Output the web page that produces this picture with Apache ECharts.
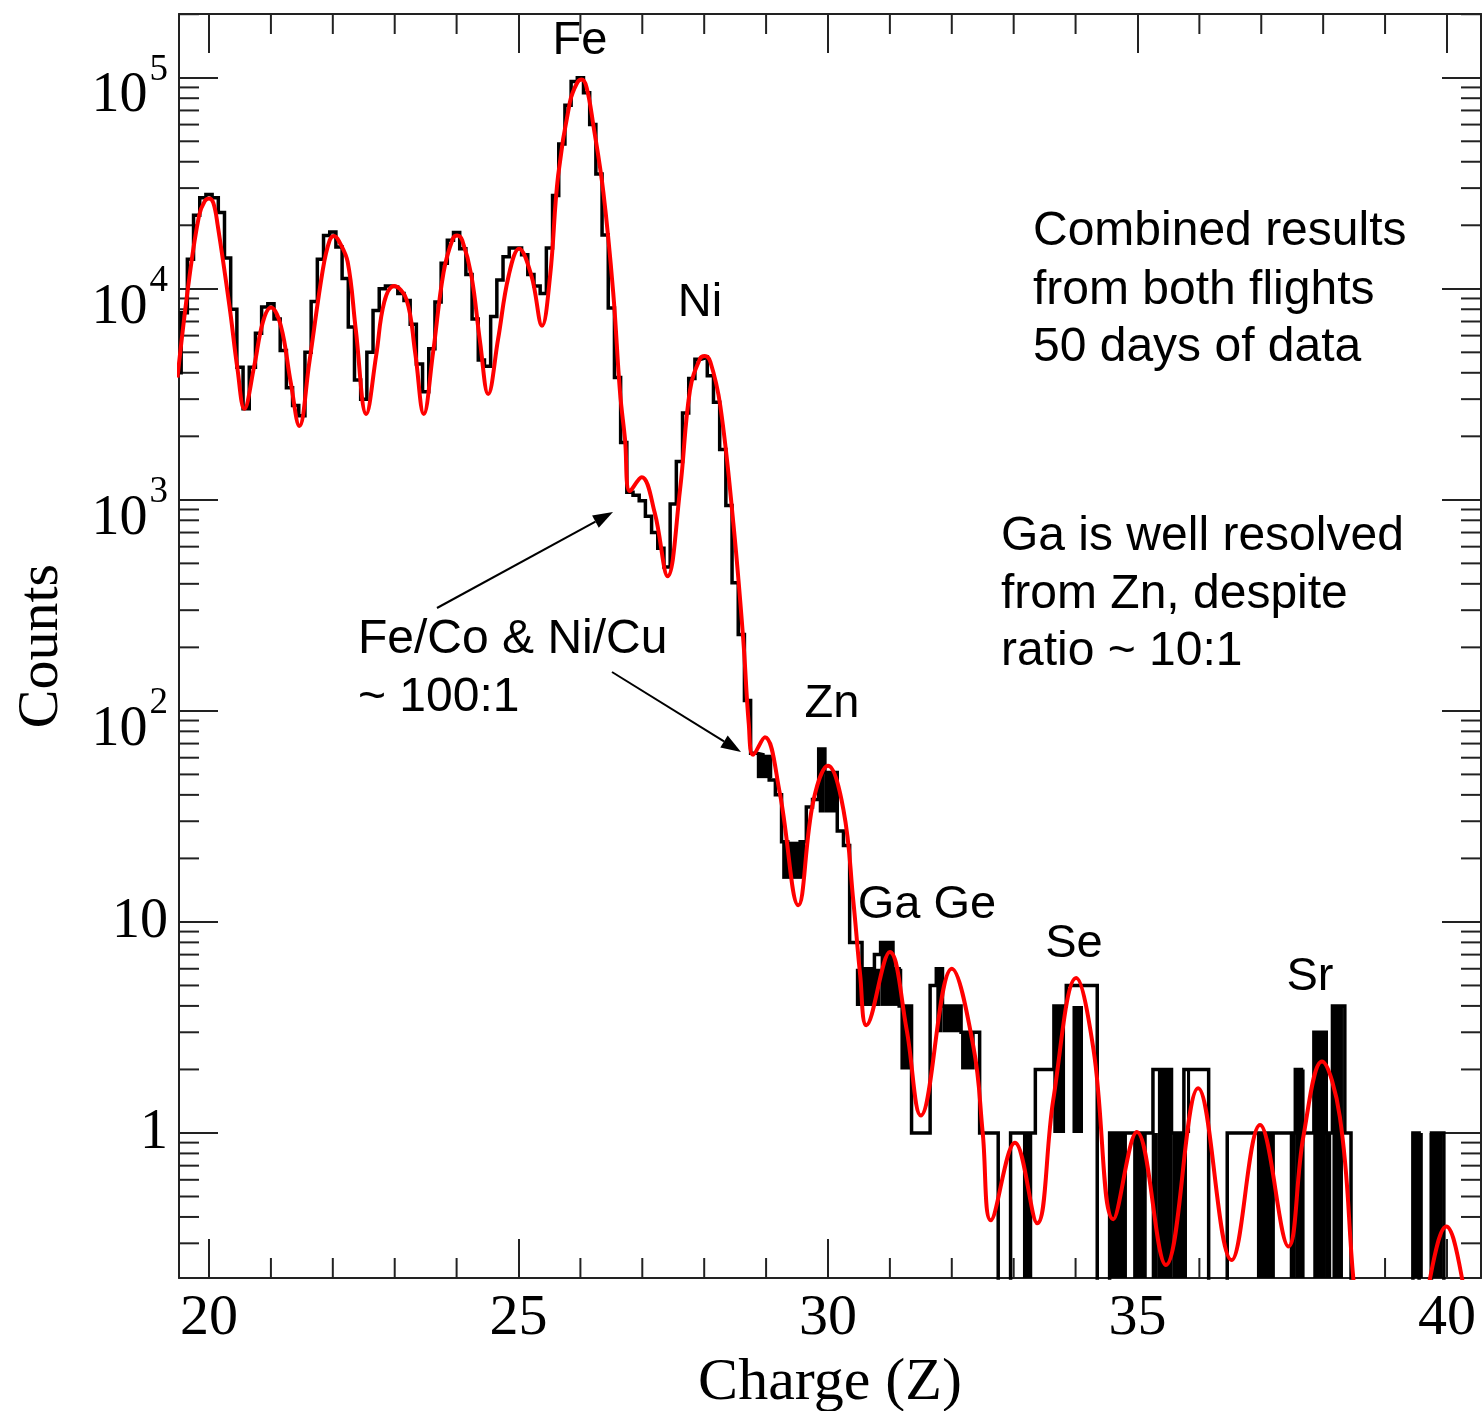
<!DOCTYPE html>
<html><head><meta charset="utf-8">
<script src="https://cdn.jsdelivr.net/npm/echarts@6/dist/echarts.min.js"></script>
<style>html,body{margin:0;padding:0;background:#fff;}#c{width:1483px;height:1411px;}</style>
</head><body><div id="c"></div>
<script>
// ---------- data ----------
const binStart = 19.45;          // left edge of first histogram bin (Z)
const binWidth = 0.1;            // bin width (Z)
// counts per bin, bin centres 19.5, 19.6, ... 40.5
const counts = [
  4000, 7700, 13800, 22300, 27000, 28000, 27000, 23000, 14000, 8000,
  4250, 2700, 4250, 6150, 8200, 8500, 7200, 5100, 3400, 2800,
  2500, 5000, 8700, 13800, 17900, 18600, 15800, 11200, 6600, 3700,
  3000, 5000, 7900, 10000, 10300, 10200, 9500, 8800, 6800, 4400,
  3250, 5200, 8650, 13200, 17000, 18500, 15500, 11700, 7200, 4600,
  4300, 7400, 11000, 14200, 15600, 15600, 14500, 11700, 10300, 9500,
  15600, 27700, 48500, 74000, 96000, 100000, 85000, 60000, 35000, 18000,
  8100, 3800, 1870, 1085, 1050, 990, 835, 700, 590, 480,
  955, 1520, 2580, 3760, 4640, 4730, 3870, 2900, 1730, 940,
  405, 230, 112, 63, 62, 60, 47, 40, 24, 23,
  22, 24, 35, 38, 66, 51, 51, 27, 23, 8,
  8, 6, 6, 7, 8, 8, 6, 4, 4, 1,
  1, 1, 5, 6, 4, 4, 4, 3, 3, 3,
  1, 1, 1, 0, 0, 1, 1, 1, 1, 2,
  2, 2, 4, 4, 5, 5, 5, 5, 5, 0,
  0, 1, 1, 1, 1, 1, 1, 1, 2, 2,
  2, 1, 1, 2, 2, 2, 2, 0, 0, 0,
  1, 1, 1, 1, 1, 1, 1, 1, 1, 1,
  1, 2, 1, 1, 3, 3, 1, 4, 4, 1,
  0, 0, 0, 0, 0, 0, 0, 0, 0, 0,
  1, 0, 0, 1, 1, 0, 0, 0, 0, 0,
  0
];
// densely fluctuating stretches that print as solid black: [Zfrom, Zto, low, high]
const blocks = [
  [28.85, 29.10, 48, 62], [29.26, 29.63, 16, 24], [29.85, 29.95, 33, 66], [29.95, 30.13, 33, 51],
  [30.45, 30.85, 4, 6], [30.85, 31.05, 4, 8], [31.05, 31.20, 4, 6], [31.17, 31.37, 2, 4],
  [31.75, 31.85, 3, 6], [31.85, 32.15, 3, 4], [32.15, 32.37, 2, 3],
  [33.15, 33.30, 0, 1], [33.64, 33.83, 1, 4], [33.95, 34.12, 1, 4],
  [34.56, 34.83, 0, 1], [34.93, 35.15, 0, 1], [35.23, 35.33, 0, 1], [35.33, 35.56, 0, 2],
  [35.56, 35.80, 0, 1], [35.80, 35.85, 1, 2], [36.93, 37.22, 0, 1], [37.46, 37.56, 0, 1],
  [37.56, 37.70, 0, 2], [37.84, 38.03, 0, 3], [38.03, 38.13, 0, 1], [38.15, 38.32, 0, 4],
  [39.43, 39.61, 0, 1], [39.72, 39.93, 0, 1]
];
// red fitted curve
const fitZ = [19.49, 19.68, 19.84, 19.93, 20.0, 20.07, 20.14, 20.33, 20.46, 20.57, 20.73, 20.87, 21.0, 21.16, 21.32, 21.46, 21.62, 21.84,
  21.95, 22.02, 22.1, 22.24, 22.37, 22.54, 22.70, 22.83, 22.99, 23.19, 23.33, 23.47, 23.62, 23.79, 23.94, 24.01, 24.09, 24.24, 24.38, 24.51,
  24.67, 24.84, 25.01, 25.21, 25.38, 25.51, 25.64, 25.83, 25.95, 26.02, 26.1, 26.21, 26.37, 26.53, 26.64, 26.72, 26.80, 26.99,
  27.2, 27.41, 27.61, 27.77, 27.93, 28.01, 28.1, 28.26, 28.47, 28.63, 28.72, 28.79, 28.98, 29.22, 29.52, 29.76, 30.0, 30.25,
  30.41, 30.52, 30.62, 31.0, 31.27, 31.5, 32.0, 32.35, 32.5, 32.63, 33.02, 33.38, 33.64, 34.01, 34.29, 34.61,
  34.99, 35.46, 35.98, 36.52, 36.98, 37.44, 37.68, 37.98, 38.27, 38.49, 38.6, 39.0, 39.62, 39.72, 39.99, 40.25, 40.35];
const fitCounts = [3800, 11200, 22300, 26000, 26800, 25500, 20000, 8300, 4170, 2700, 4300, 6950, 8150, 6680, 3600, 2240, 4470, 12400,
  17000, 17800, 16800, 13400, 6450, 2550, 4820, 8630, 10300, 8900, 5000, 2550, 5000, 12000, 17300, 17900, 17000, 11500, 5570, 3170,
  5770, 11500, 15500, 11500, 6680, 11500, 34400, 76700, 95000, 98000, 90000, 59400, 28800, 9600, 3240, 1950, 1100, 1280,
  870, 435, 1120, 3300, 4650, 4800, 4500, 2790, 780, 220, 87, 62, 75, 41, 12, 37, 55, 34,
  12.5, 5.6, 3.24, 7.2, 3.1, 1.21, 6.0, 2.56, 1.0, 0.386, 0.9, 0.373, 1.44, 5.42, 2.48, 0.39,
  1.01, 0.237, 1.63, 0.25, 1.09, 0.29, 0.96, 2.18, 1.19, 0.2, 0.1, null, 0.1, 0.2, 0.36, 0.2, 0.1];
// axis ticks
const xMinorTicks = [21, 22, 23, 24, 26, 27, 28, 29, 31, 32, 33, 34, 36, 37, 38, 39];
const yMinorTicks = [0.3, 0.4, 0.5, 0.6, 0.7, 0.8, 0.9, 2, 3, 4, 5, 6, 7, 8, 9, 20, 30, 40, 50, 60, 70, 80, 90,
  200, 300, 400, 500, 600, 700, 800, 900, 2000, 3000, 4000, 5000, 6000, 7000, 8000, 9000,
  20000, 30000, 40000, 50000, 60000, 70000, 80000, 90000, 200000];
// element labels and notes
const elementLabels = [['Fe', 580, 41], ['Ni', 700, 303], ['Zn', 832, 704], ['Ga Ge', 927, 905], ['Se', 1074, 944], ['Sr', 1310, 977]];
const noteLines = [
  ['Combined results', 1033, 232], ['from both flights', 1033, 291], ['50 days of data', 1033, 348],
  ['Ga is well resolved', 1001, 537], ['from Zn, despite', 1001, 595], ['ratio ~ 10:1', 1001, 652],
  ['Fe/Co & Ni/Cu', 358, 640], ['~ 100:1', 358, 698]
];
const arrows = [[437, 608, 613, 512], [612, 672, 741, 752]];

// ---------- build ----------
const X_MIN = 19.515, X_MAX = 40.55, Y_MIN = 0.2055, Y_MAX = 200500, FLOOR = 0.01;
const histData = counts.map((c, i) => [+(binStart + i * binWidth).toFixed(2), c > 0 ? c : FLOOR]);
histData.push([+(binStart + counts.length * binWidth).toFixed(2), counts[counts.length - 1] > 0 ? counts[counts.length - 1] : FLOOR]);
const fitData = fitZ.map((z, i) => [z, fitCounts[i]]);

const serif = 'Liberation Serif';
const axisLineStyle = { color: '#222', width: 2 };
const tickStyle = { color: '#222', width: 2 };

function isPow10(v) { const l = Math.log10(v); return Math.abs(l - Math.round(l)) < 1e-6; }

const chart = echarts.init(document.getElementById('c'), null, { renderer: 'canvas' });

const graphics = [];
elementLabels.forEach(([t, x, y]) => graphics.push({ type: 'text', z: 100, style: { text: t, x, y, align: 'center', verticalAlign: 'middle', font: '47px "Liberation Sans"', fill: '#000' } }));
noteLines.forEach(([t, x, y]) => graphics.push({ type: 'text', z: 100, style: { text: t, x, y, align: 'left', verticalAlign: 'middle', font: '48px "Liberation Sans"', fill: '#000' } }));
arrows.forEach(([x1, y1, x2, y2]) => {
  const dx = x2 - x1, dy = y2 - y1, L = Math.hypot(dx, dy), ux = dx / L, uy = dy / L, nx = -uy, ny = ux;
  const hl = 20, hw = 7, bx = x2 - hl * ux, by = y2 - hl * uy;
  graphics.push({ type: 'line', z: 100, shape: { x1, y1, x2: bx, y2: by }, style: { stroke: '#000', lineWidth: 2 } });
  graphics.push({ type: 'polygon', z: 100, shape: { points: [[x2, y2], [bx + hw * nx, by + hw * ny], [bx - hw * nx, by - hw * ny]] }, style: { fill: '#000' } });
});

const option = {
  animation: false,
  backgroundColor: '#fff',
  grid: { left: 179, top: 14, width: 1302, height: 1264, containLabel: false, outerBoundsMode: 'none' },
  xAxis: [
    { type: 'value', min: X_MIN, max: X_MAX, splitNumber: 4, position: 'bottom',
      axisLine: { show: true, onZero: false, lineStyle: axisLineStyle },
      axisTick: { show: true, inside: true, length: 39, lineStyle: tickStyle },
      splitLine: { show: false },
      axisLabel: { show: true, margin: 12, fontFamily: serif, fontSize: 58, color: '#000',
        formatter: v => (Math.abs(v % 5) < 1e-9 ? String(v) : '') },
      name: 'Charge (Z)', nameLocation: 'middle', nameGap: 72,
      nameTextStyle: { fontFamily: serif, fontSize: 60, color: '#000' } },
    { type: 'value', min: X_MIN, max: X_MAX, splitNumber: 4, position: 'top',
      axisLine: { show: true, onZero: false, lineStyle: axisLineStyle },
      axisTick: { show: true, inside: true, length: 39, lineStyle: tickStyle },
      splitLine: { show: false }, axisLabel: { show: false } }
  ],
  yAxis: [
    { type: 'log', logBase: 10, min: Y_MIN, max: Y_MAX, position: 'left',
      axisLine: { show: true, onZero: false, lineStyle: axisLineStyle },
      axisTick: { show: true, inside: true, length: 39, lineStyle: tickStyle },
      splitLine: { show: false },
      axisLabel: { show: true, margin: 11, fontFamily: serif, fontSize: 56, color: '#000',
        formatter: v => {
          if (!isPow10(v)) return '';
          const e = Math.round(Math.log10(v));
          if (e === 0) return '1';
          if (e === 1) return '10';
          return '{b|10}{sup|' + e + '}';
        },
        rich: {
          b: { fontFamily: serif, fontSize: 56, color: '#000', lineHeight: 56, padding: [38, 0, 0, 0] },
          sup: { fontFamily: serif, fontSize: 37, color: '#000', verticalAlign: 'top', lineHeight: 40, padding: [2, 0, 0, 2] }
        } },
      name: 'Counts', nameLocation: 'middle', nameGap: 108, nameRotate: 90,
      nameTextStyle: { fontFamily: serif, fontSize: 58, color: '#000' } },
    { type: 'log', logBase: 10, min: Y_MIN, max: Y_MAX, position: 'right',
      axisLine: { show: true, onZero: false, lineStyle: axisLineStyle },
      axisTick: { show: true, inside: true, length: 39, lineStyle: tickStyle },
      splitLine: { show: false }, axisLabel: { show: false } }
  ],
  series: [
    { type: 'custom', name: 'minorY', xAxisIndex: 0, yAxisIndex: 0, silent: true, z: 1,
      data: yMinorTicks.map(v => [X_MIN, v]),
      encode: { x: 0, y: 1 },
      renderItem: (params, api) => {
        const cs = params.coordSys; const y = api.coord([X_MIN, api.value(1)])[1];
        if (y < cs.y - 1 || y > cs.y + cs.height + 1) return null;
        return { type: 'group', children: [
          { type: 'line', shape: { x1: cs.x, y1: y, x2: cs.x + 20, y2: y }, style: { stroke: '#222', lineWidth: 2 } },
          { type: 'line', shape: { x1: cs.x + cs.width - 20, y1: y, x2: cs.x + cs.width, y2: y }, style: { stroke: '#222', lineWidth: 2 } }
        ] };
      } },
    { type: 'custom', name: 'minorX', xAxisIndex: 0, yAxisIndex: 0, silent: true, z: 1,
      data: xMinorTicks.map(v => [v, 1]),
      encode: { x: 0, y: 1 },
      renderItem: (params, api) => {
        const cs = params.coordSys; const x = api.coord([api.value(0), 1])[0];
        return { type: 'group', children: [
          { type: 'line', shape: { x1: x, y1: cs.y + cs.height, x2: x, y2: cs.y + cs.height - 20 }, style: { stroke: '#222', lineWidth: 2 } },
          { type: 'line', shape: { x1: x, y1: cs.y, x2: x, y2: cs.y + 20 }, style: { stroke: '#222', lineWidth: 2 } }
        ] };
      } },
    { type: 'custom', name: 'blocks', xAxisIndex: 0, yAxisIndex: 0, silent: true, z: 2,
      data: blocks,
      encode: { x: [0, 1], y: [2, 3] },
      renderItem: (params, api) => {
        const cs = params.coordSys;
        const lo = api.value(2) > 0 ? api.value(2) : FLOOR;
        const p0 = api.coord([api.value(0), api.value(3)]);
        const p1 = api.coord([api.value(1), lo]);
        const rect = echarts.graphic.clipRectByRect(
          { x: p0[0], y: p0[1], width: p1[0] - p0[0], height: p1[1] - p0[1] },
          { x: cs.x, y: cs.y, width: cs.width, height: cs.height });
        return rect && { type: 'rect', shape: rect, style: { fill: '#000' } };
      } },
    { type: 'line', name: 'histogram', xAxisIndex: 0, yAxisIndex: 0, step: 'end', data: histData,
      showSymbol: false, symbol: 'none', clip: true, z: 3,
      lineStyle: { color: '#000', width: 3.5, join: 'miter' } },
    { type: 'line', name: 'fit', xAxisIndex: 0, yAxisIndex: 0, data: fitData, smooth: 0.4,
      showSymbol: false, symbol: 'none', clip: true, connectNulls: false, z: 4,
      lineStyle: { color: '#ff0000', width: 4 } }
  ],
  graphic: graphics
};
chart.setOption(option);
</script>
</body></html>
